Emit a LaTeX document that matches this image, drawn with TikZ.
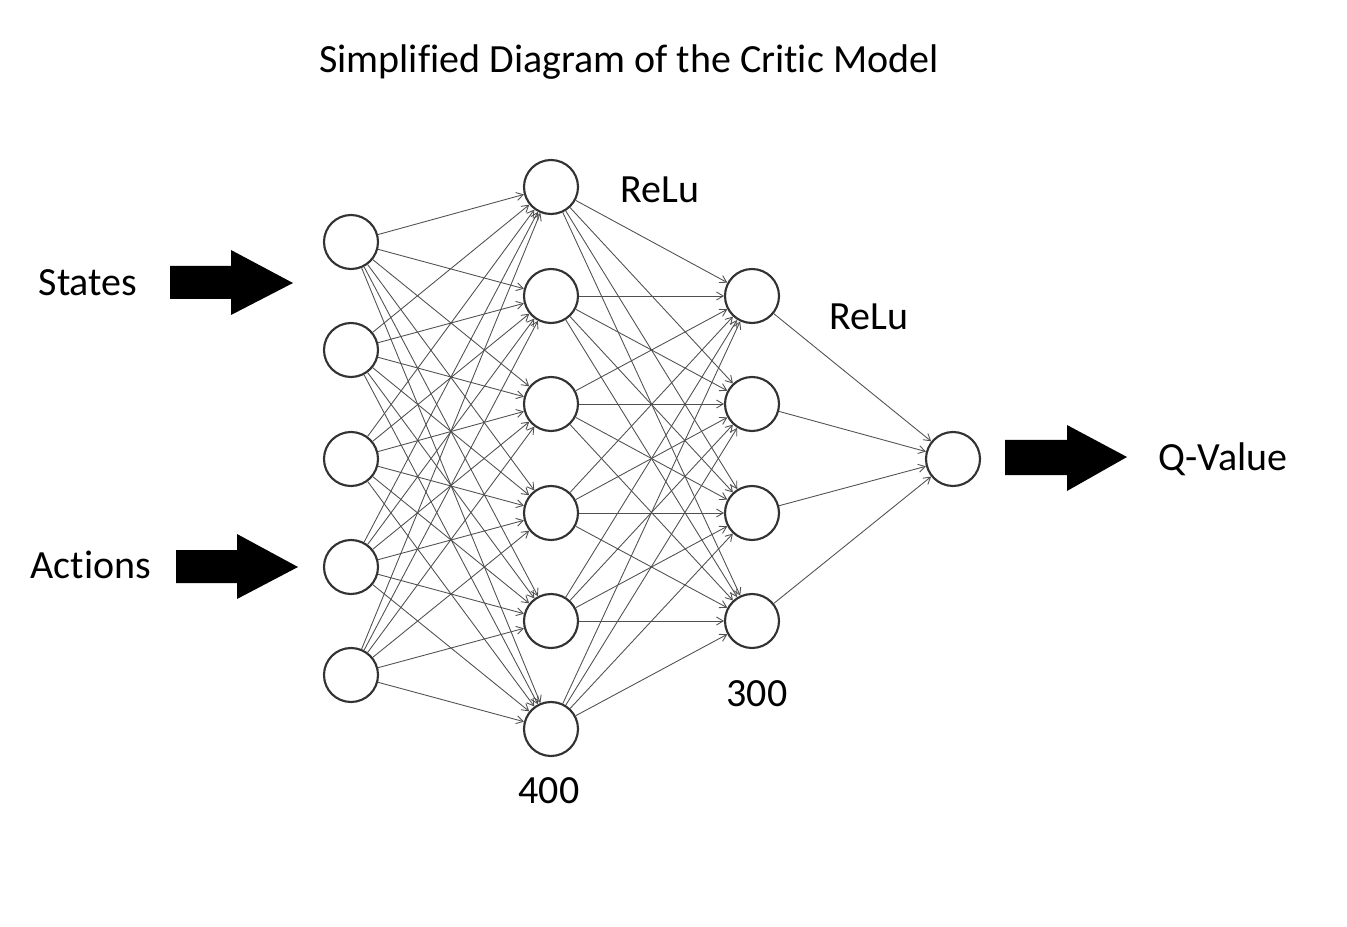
\documentclass[tikz,border=0pt]{standalone}
\usepackage{fontspec}
\setmainfont{Carlito}[Ligatures={NoCommon}]
\usetikzlibrary{arrows.meta}
\definecolor{ringcol}{HTML}{333333}
\definecolor{edgecol}{HTML}{505050}
\tikzset{
  neuron/.style={circle, draw=ringcol, line width=1.6pt, fill=white, minimum size=40.5pt, inner sep=0pt},
  link/.style={draw=edgecol, line width=0.65pt, -{Straight Barb[length=5pt,width=6pt]}},
  lbl/.style={font=\fontsize{30}{35}\selectfont, inner sep=0pt},
  bigarrow/.style={fill=black}
}
\begin{document}
\begin{tikzpicture}[x=0.75pt,y=-0.75pt]
\useasboundingbox[fill=white] (0,0) rectangle (1347,927);
% layer 1
\foreach \i/\y in {1/242,2/350,3/459,4/567,5/675}
  \node[neuron] (a\i) at (351,\y) {};
% layer 2
\foreach \i/\y in {1/187,2/296,3/404,4/513,5/621,6/729}
  \node[neuron] (b\i) at (551,\y) {};
% layer 3
\foreach \i/\y in {1/296,2/404,3/513,4/621}
  \node[neuron] (c\i) at (752,\y) {};
% output
\node[neuron] (o) at (953,459) {};
% connections
\foreach \i in {1,...,5}
  \foreach \j in {1,...,6}
    \draw[link] (a\i) -- (b\j);
\foreach \i in {1,...,6}
  \foreach \j in {1,...,4}
    \draw[link] (b\i) -- (c\j);
\foreach \j in {1,...,4}
  \draw[link] (c\j) -- (o);
% block arrows
\fill[bigarrow] (170,266) -- (231,266) -- (231,250) -- (293,283) -- (231,315) -- (231,299) -- (170,299) -- cycle;
\fill[bigarrow] (176,550) -- (237,550) -- (237,534) -- (298,567) -- (237,599) -- (237,583) -- (176,583) -- cycle;
\fill[bigarrow] (1005,440) -- (1067,440) -- (1067,425) -- (1127,457) -- (1067,491) -- (1067,475) -- (1005,475) -- cycle;
% labels
\node[lbl] (title) at (629,62) {Simplified Diagram of the Critic Model};
\node[lbl] (states) at (88,283) {States};
\node[lbl] (actions) at (91,565) {Actions};
\node[lbl] (qval) at (1223,459) {Q-Value};
\node[lbl] (relu1) at (660,190) {ReLu};
\node[lbl] (relu2) at (869,317) {ReLu};
\node[lbl] (n300) at (757,694) {300};
\node[lbl] (n400) at (549,791) {400};
\end{tikzpicture}
\end{document}
